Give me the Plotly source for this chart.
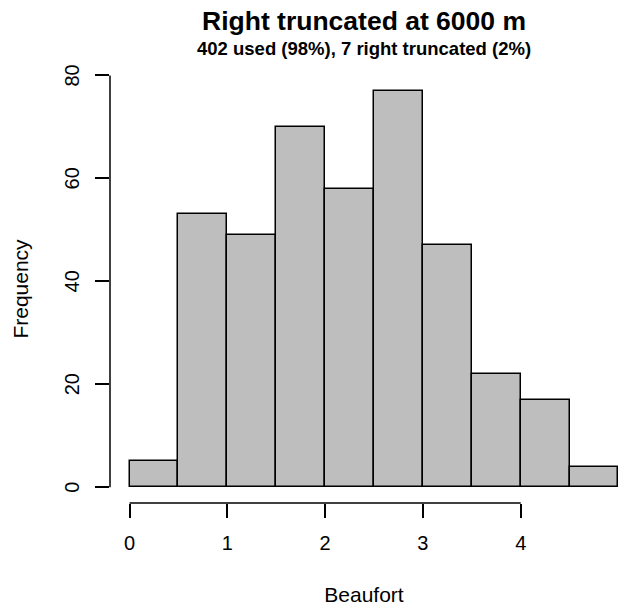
import plotly.graph_objects as go

# ---- data ----
bin_edges = [0, 0.5, 1, 1.5, 2, 2.5, 3, 3.5, 4, 4.5, 5]
counts = [5, 53, 49, 70, 58, 77, 47, 22, 17, 4]
x_ticks = [0, 1, 2, 3, 4]
y_ticks = [0, 20, 40, 60, 80]
title_text = "Right truncated at 6000 m"
subtitle_text = "402 used (98%), 7 right truncated (2%)"
x_label = "Beaufort"
y_label = "Frequency"

centers = [(a + b) / 2 for a, b in zip(bin_edges[:-1], bin_edges[1:])]
widths = [b - a for a, b in zip(bin_edges[:-1], bin_edges[1:])]

FONT = "Liberation Sans, Arial, sans-serif"
LW = 1.5

ymax = max(counts)
y_range = [-0.04 * ymax, 1.04 * ymax]
x_range = [-0.2, 4.995]

fig = go.Figure()
fig.add_trace(go.Bar(
    x=centers, y=counts, width=widths,
    marker=dict(color="#BEBEBE", line=dict(color="black", width=LW)),
    showlegend=False, hoverinfo="x+y",
))

fig.update_layout(
    width=618, height=611,
    margin=dict(l=110, r=0, t=75, b=108),
    paper_bgcolor="white", plot_bgcolor="white",
    bargap=0,
    font=dict(family=FONT, color="black", size=20),
    title=dict(
        text="<b>" + title_text + "</b>",
        x=0.5, xref="paper", xanchor="center",
        y=1 - 21 / 611, yref="container", yanchor="middle",
        font=dict(size=26.5, family=FONT, color="black"),
    ),
    annotations=[dict(
        text="<b>" + subtitle_text + "</b>",
        x=0.5, xref="paper", xanchor="center",
        y=(611 - 48 - 108) / (611 - 75 - 108), yref="paper", yanchor="middle", showarrow=False,
        font=dict(size=18.5, family=FONT, color="black"),
    )],
    xaxis=dict(
        range=x_range, tickvals=x_ticks, ticktext=[str(v) for v in x_ticks],
        ticks="outside", ticklen=14, tickwidth=LW, tickcolor="black",
        showgrid=False, zeroline=False, showline=False, automargin=False,
        tickfont=dict(size=20, family=FONT, color="black"),
        ticklabelstandoff=8,
        title=dict(text=x_label, font=dict(size=21, family=FONT, color="black"), standoff=34),
    ),
    yaxis=dict(
        range=y_range, tickvals=y_ticks, ticktext=[str(v) for v in y_ticks],
        ticks="outside", ticklen=14, tickwidth=LW, tickcolor="black",
        showgrid=False, zeroline=False, showline=False, automargin=False,
        tickangle=-90, ticklabelshift=3,
        tickfont=dict(size=20, family=FONT, color="black"),
        ticklabelstandoff=8,
        title=dict(text=y_label, font=dict(size=21, family=FONT, color="black"), standoff=26.5),
    ),
    shapes=[
        dict(type="line", xref="x", yref="paper", x0=min(x_ticks), x1=max(x_ticks), y0=0, y1=0,
             line=dict(color="black", width=LW)),
        dict(type="line", xref="paper", yref="y", x0=0, x1=0, y0=min(y_ticks), y1=max(y_ticks),
             line=dict(color="black", width=LW)),
    ],
)

# remove the browser's default 8px body margin so the figure sits at (0, 0)
fig.write_html("out.html", post_script="document.body.style.margin='0';")
